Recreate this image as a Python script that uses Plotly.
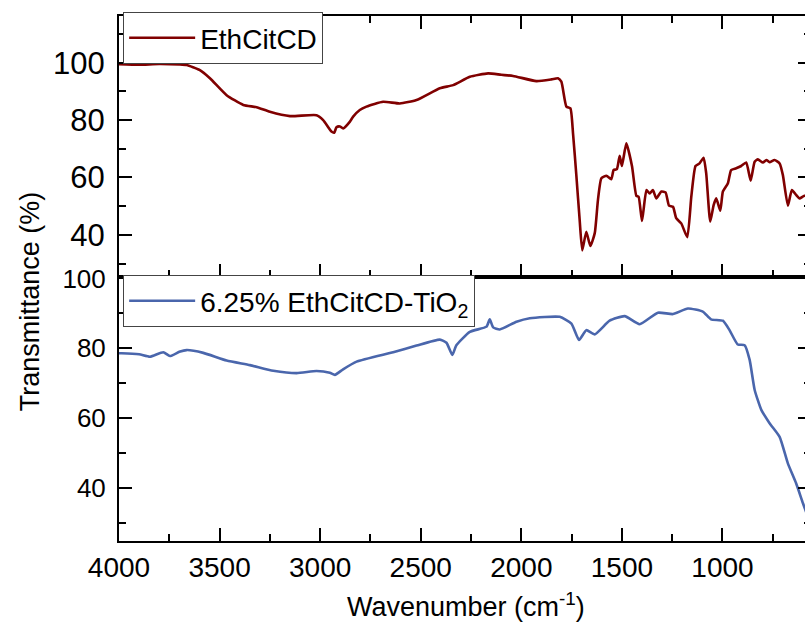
import plotly.graph_objects as go
from plotly.subplots import make_subplots

# FTIR spectra: wavenumber (cm-1) and transmittance (%)
eth_wn = [4000, 3900, 3800, 3700, 3664, 3600, 3548, 3465, 3382, 3316, 3250, 3150,
          3018, 2985, 2944, 2930, 2919, 2902, 2886, 2853, 2836, 2803, 2770, 2687,
          2604, 2521, 2405, 2339, 2256, 2165, 2100, 2041, 1925, 1850, 1818, 1801,
          1776, 1756, 1743, 1726, 1710, 1697, 1677, 1657, 1635, 1619, 1602, 1577,
          1553, 1541, 1525, 1511, 1500, 1478, 1450, 1428, 1417, 1400, 1378, 1362,
          1346, 1329, 1304, 1283, 1266, 1246, 1230, 1205, 1175, 1155, 1134, 1114,
          1094, 1081, 1061, 1044, 1031, 1011, 998, 973, 957, 932, 907, 882, 860,
          840, 824, 799, 782, 766, 741, 716, 700, 675, 655, 634, 617, 593, 560]
eth_t = [99.5, 99.3, 99.6, 99.4, 99.2, 97.5, 94.6, 88.7, 85.3, 84.5, 82.9, 81.4,
         81.7, 80.0, 76.0, 75.6, 77.5, 77.8, 77.1, 79.4, 81.2, 83.5, 84.7, 86.4,
         85.8, 87.0, 91.1, 92.2, 95.1, 96.3, 95.8, 95.4, 93.6, 94.2, 94.6, 93.4,
         84.7, 84.1, 75.4, 60.3, 45.2, 34.6, 41.1, 36.1, 40.6, 52.2, 59.7, 60.6,
         59.4, 62.6, 62.9, 67.6, 64.0, 71.9, 64.0, 53.6, 53.3, 44.8, 55.6, 54.4,
         55.6, 52.7, 55.1, 54.8, 50.2, 49.8, 45.8, 44.0, 39.2, 53.3, 64.0, 64.9,
         66.9, 61.5, 44.6, 50.4, 52.7, 48.4, 55.1, 58.0, 62.6, 63.2, 64.0, 65.2, 58.9,
         65.5, 66.3, 65.2, 66.1, 65.3, 66.1, 64.9, 60.9, 50.2, 55.6, 53.9, 52.7, 53.6, 53.0]

tio2_wn = [4000, 3987, 3900, 3846, 3780, 3747, 3700, 3664, 3581, 3465, 3349, 3233,
           3117, 3018, 2952, 2927, 2886, 2819, 2637, 2521, 2405, 2372, 2343, 2323,
           2256, 2173, 2157, 2140, 2107, 2024, 1958, 1809, 1751, 1713, 1677, 1635,
           1561, 1486, 1412, 1321, 1246, 1172, 1098, 1057, 998, 965, 924, 890, 865,
           840, 807, 766, 716, 675, 634, 600, 580]
tio2_t = [78.6, 78.6, 78.3, 77.6, 78.9, 77.8, 79.0, 79.5, 78.7, 76.5, 75.2, 73.6,
          72.9, 73.5, 73.0, 72.4, 74.0, 76.2, 78.9, 80.8, 82.5, 81.6, 78.1, 80.9,
          84.7, 86.2, 88.3, 86.0, 85.4, 87.6, 88.6, 89.0, 87.1, 82.4, 85.2, 84.0,
          87.9, 89.2, 86.9, 90.2, 89.8, 91.4, 90.5, 88.3, 87.9, 85.2, 81.1, 80.9, 76.7,
          68.1, 62.4, 58.6, 54.7, 47.1, 41.4, 35.7, 32.5]

x_ticks = [4000, 3500, 3000, 2500, 2000, 1500, 1000]
y_ticks = [40, 60, 80, 100]

FONT = "Liberation Sans, Arial, sans-serif"
W, H = 815, 623
L, R, T, B = 119, 2, 16, 82
plot_h = H - T - B
split = 264 / plot_h

fig = make_subplots(rows=2, cols=1, shared_xaxes=False, vertical_spacing=0)

fig.add_trace(go.Scatter(x=eth_wn, y=eth_t, mode="lines", name="EthCitCD",
                         line=dict(color="#800000", width=2.6, shape="spline",
                                   smoothing=0.5),
                         legend="legend"),
              row=1, col=1)
fig.add_trace(go.Scatter(x=tio2_wn, y=tio2_t, mode="lines",
                         name="6.25% EthCitCD-TiO<sub>2</sub>",
                         line=dict(color="#4A66AC", width=2.6, shape="spline",
                                   smoothing=0.5),
                         legend="legend2"),
              row=2, col=1)

xcommon = dict(range=[4000, 560], tickmode="array", tickvals=x_ticks,
               ticks="inside", ticklen=13, tickwidth=2, tickcolor="black",
               showline=True, linewidth=2, linecolor="black", showgrid=False,
               zeroline=False,
               minor=dict(ticks="inside", ticklen=7, tickwidth=2, dtick=250,
                          tick0=0, tickcolor="black", showgrid=False))
ycommon = dict(tickmode="array", tickvals=y_ticks, ticks="inside", ticklen=13,
               tickwidth=2, tickcolor="black", showline=True, linewidth=2,
               linecolor="black", showgrid=False, zeroline=False, mirror="ticks",
               ticklabelstandoff=6,
               minor=dict(ticks="inside", ticklen=7, tickwidth=2, dtick=10,
                          tick0=0, tickcolor="black", showgrid=False))

legend_style = dict(xanchor="left", yanchor="top", bgcolor="white",
                    bordercolor="#444", borderwidth=1,
                    font=dict(family=FONT, size=28, color="black"),
                    itemwidth=66, tracegroupgap=0)

fig.update_layout(
    xaxis=dict(**xcommon, domain=[0, 1], showticklabels=False, mirror="ticks"),
    xaxis2=dict(**xcommon, domain=[0, 1], mirror=True,
                tickfont=dict(family=FONT, size=28, color="black"),
                ticklabelstandoff=0),
    yaxis=dict(**ycommon, domain=[split, 1], range=[25.3, 116.3],
               tickfont=dict(family=FONT, size=31, color="black")),
    yaxis2=dict(**ycommon, domain=[0, split], range=[24.9, 100.4],
                tickfont=dict(family=FONT, size=26, color="black")),
    width=W, height=H,
    margin=dict(l=L, r=R, t=T, b=B, pad=0),
    paper_bgcolor="white", plot_bgcolor="white",
    font=dict(family=FONT, color="black"),
    legend=dict(x=0.006, y=1 - (12 - T) / plot_h, **legend_style),
    legend2=dict(x=0.006, y=1 - (275 - T) / plot_h, **legend_style),
    showlegend=True,
    annotations=[
        dict(text="Transmittance (%)", textangle=-90, xref="paper", yref="paper",
             x=(30 - L) / (W - L - R), y=1 - (301 - T) / plot_h,
             xanchor="center", yanchor="middle", showarrow=False,
             font=dict(family=FONT, size=27, color="black")),
        dict(text="Wavenumber (cm<sup>-1</sup>)", xref="paper", yref="paper",
             x=(467 - L) / (W - L - R), y=-(605 - (H - B)) / plot_h,
             xanchor="center", yanchor="middle", showarrow=False,
             font=dict(family=FONT, size=27, color="black")),
    ],
)

fig.write_html(
    "out.html",
    post_script="document.documentElement.style.overflow='hidden';"
                "document.body.style.overflow='hidden';",
)
